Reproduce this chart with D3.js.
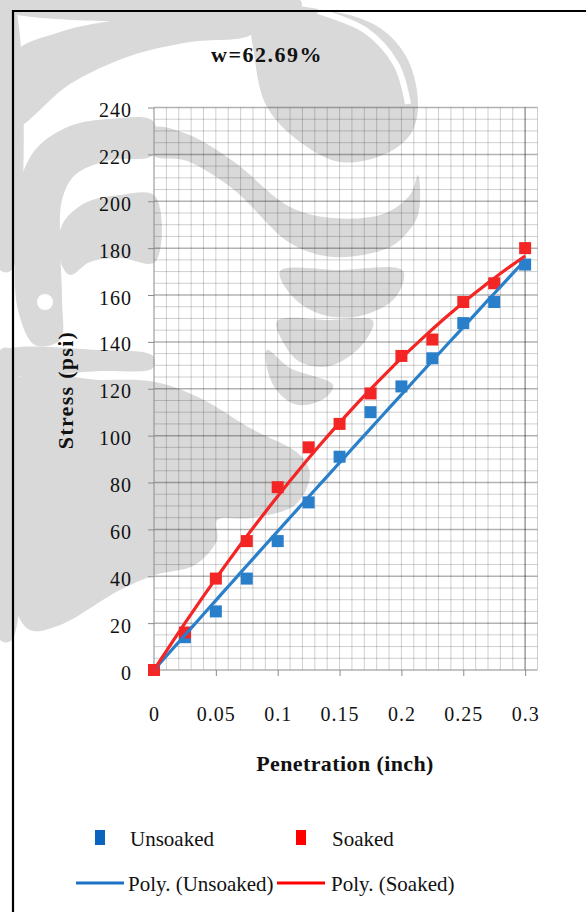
<!DOCTYPE html>
<html>
<head>
<meta charset="utf-8">
<script src="https://cdn.jsdelivr.net/npm/d3@7"></script>
<style>
  html, body { margin: 0; padding: 0; background: #fff; }
  svg { display: block; }
  text { font-family: "Liberation Serif", "Times New Roman", serif; fill: #111; }
</style>
</head>
<body>
<svg id="chart" width="586" height="912"></svg>
<script>
// Penetration readings (inch) and measured stress (psi)
const penetration = [0, 0.025, 0.05, 0.075, 0.1, 0.125, 0.15, 0.175, 0.2, 0.225, 0.25, 0.275, 0.3];
const unsoaked    = [0, 14, 25, 39, 55, 71.5, 91, 110, 121, 133, 148, 157, 173];
const soaked      = [0, 16, 39, 55, 78, 95, 105, 118, 134, 141, 157, 165, 180];

const xTicks = [0, 0.05, 0.1, 0.15, 0.2, 0.25, 0.3];
const yTicks = [0, 20, 40, 60, 80, 100, 120, 140, 160, 180, 200, 220, 240];

const titleText = "w=62.69%";
const xTitle = "Penetration (inch)";
const yTitle = "Stress (psi)";
const seriesNames = ["Unsoaked", "Soaked"];

const blue = "#2a7fca", red = "#f42525";
const legendBlue = "#0a63bd", legendRed = "#ff0000";

const svg = d3.select("#chart");

// faint page watermark behind the chart
const watermark = [
  [[0,0],[300,0],[300,10],[0,10]],
  [[0,0],[12,0],[12,270],[0,270]],
  [[0,350],[12,350],[12,640],[0,640]],
  [[13,55],[60,32],[130,18],[200,11],[260,11],[252,34],[190,42],[130,56],[70,84],[13,128]],
  [[255,11],[330,11],[380,28],[408,60],[418,107],[410,135],[383,155],[340,162],[300,142],[267,107],[255,60]],
  [[153,128],[187,134],[233,161],[290,207],[333,218],[383,214],[410,195],[418,175],[418,215],[400,240],
   [383,250],[333,257],[290,243],[233,189],[187,161],[153,155]],
  [[153,121],[153,155],[110,160],[75,175],[62,200],[60,240],[62,300],[60,340],[35,345],[18,310],
   [15,250],[18,190],[35,150],[70,126],[110,119]],
  [[155,196],[155,262],[120,258],[90,262],[70,275],[60,260],[62,225],[85,203],[120,195]],
  [[280,271],[340,270],[403,271],[395,298],[360,316],[320,314],[292,296]],
  [[277,321],[330,320],[373,321],[362,345],[330,366],[300,362],[283,342]],
  [[267,350],[290,368],[333,385],[325,398],[298,405],[278,392],[268,372]],
  [[0,352],[100,350],[153,356],[153,368],[100,371],[0,372]],
  [[13,382],[100,380],[155,382],[200,398],[250,428],[300,455],[310,475],[295,505],[250,518],[217,520],
   [217,540],[195,565],[155,575],[120,590],[60,625],[30,630],[13,600]]
];
const wm = svg.append("g");
wm.selectAll("path").data(watermark).join("path")
  .attr("d", d3.line().curve(d3.curveCatmullRomClosed.alpha(0.5)))
  .attr("fill", "#d9d9d9");
wm.append("path")
  .attr("d", d3.line().curve(d3.curveCatmullRom.alpha(0.5))([[318,11],[365,30],[396,64],[408,104]]))
  .attr("fill", "none").attr("stroke", "#fff").attr("stroke-width", 6);
wm.append("circle").attr("cx", 45).attr("cy", 302).attr("r", 8).attr("fill", "#fff");

// outer frame
svg.append("path").attr("d", "M13,912V11H586").attr("fill", "none")
  .attr("stroke", "#000").attr("stroke-width", 2.2);

// plot geometry
const plot = { left: 154, right: 537.5, top: 107.5, bottom: 670 };
const x = d3.scaleLinear().domain([0, 0.31]).range([plot.left, plot.right]);
const y = d3.scaleLinear().domain([0, 240]).range([plot.bottom, plot.top]);

// grid
const grid = svg.append("g");
const vMinor = d3.range(1, 32).map(i => i / 100);
const hMinor = d3.range(5, 241, 5);
grid.selectAll(".vx").data(vMinor).join("line")
  .attr("x1", d => x(d)).attr("x2", d => x(d))
  .attr("y1", plot.top).attr("y2", plot.bottom)
  .attr("stroke", "#000").attr("stroke-opacity", 0.19).attr("stroke-width", 1);
grid.selectAll(".hy").data(hMinor).join("line")
  .attr("y1", d => y(d)).attr("y2", d => y(d))
  .attr("x1", plot.left).attr("x2", plot.right)
  .attr("stroke", "#000").attr("stroke-opacity", d => d % 20 === 0 ? 0.3 : 0.19)
  .attr("stroke-width", d => d % 20 === 0 ? 1.5 : 1);
grid.append("line")
  .attr("x1", x(0.3)).attr("x2", x(0.3)).attr("y1", plot.top).attr("y2", plot.bottom)
  .attr("stroke", "#000").attr("stroke-opacity", 0.28).attr("stroke-width", 1.6);

// axes
const xAxis = d3.axisBottom(x).tickValues(xTicks).tickSize(6).tickFormat(d3.format("~g"));
const yAxis = d3.axisLeft(y).tickValues(yTicks).tickSize(6).tickFormat(d3.format("d"));

const gx = svg.append("g").attr("transform", `translate(0,${plot.bottom})`).call(xAxis);
gx.select(".domain").attr("stroke", "#8a8a8a").attr("d", `M${plot.left},0H${plot.right}`);
gx.selectAll(".tick line").attr("stroke", "#8a8a8a");
gx.selectAll(".tick text").attr("y", 51).attr("dy", 0)
  .style("font-family", "Liberation Serif").style("font-size", "20px")
  .style("letter-spacing", "1px").attr("fill", "#111");

const gy = svg.append("g").attr("transform", `translate(${plot.left},0)`).call(yAxis);
gy.select(".domain").attr("stroke", "#8a8a8a").attr("d", `M0,${plot.top}V${plot.bottom}`);
gy.selectAll(".tick line").attr("stroke", "#8a8a8a");
gy.selectAll(".tick text").attr("x", -22).attr("dy", 9)
  .style("font-family", "Liberation Serif").style("font-size", "20px")
  .style("letter-spacing", "1px").attr("fill", "#111");

// titles
svg.append("text").attr("x", 267).attr("y", 62).attr("text-anchor", "middle")
  .style("font-weight", "bold").style("font-size", "22px").style("letter-spacing", "1.5px")
  .text(titleText);
svg.append("text").attr("x", 345).attr("y", 771).attr("text-anchor", "middle")
  .style("font-weight", "bold").style("font-size", "22px").style("letter-spacing", "0.4px")
  .text(xTitle);
svg.append("text").attr("transform", "translate(73,390) rotate(-90)").attr("text-anchor", "middle")
  .style("font-weight", "bold").style("font-size", "22px").style("letter-spacing", "1.3px")
  .text(yTitle);

// second-order least-squares fit through the origin: y = b*x + c*x^2
function polyfit2(xs, ys) {
  let s2 = 0, s3 = 0, s4 = 0, t1 = 0, t2 = 0;
  xs.forEach((xv, i) => {
    s2 += xv * xv; s3 += xv ** 3; s4 += xv ** 4;
    t1 += xv * ys[i]; t2 += xv * xv * ys[i];
  });
  const D = s2 * s4 - s3 * s3;
  const b = (t1 * s4 - s3 * t2) / D;
  const c = (s2 * t2 - s3 * t1) / D;
  return xv => b * xv + c * xv * xv;
}

const series = [
  { name: seriesNames[0], values: unsoaked, color: blue },
  { name: seriesNames[1], values: soaked, color: red }
];

const ms = 12;
series.forEach(sr => {
  svg.append("g").selectAll("rect").data(penetration).join("rect")
    .attr("x", (d) => x(d) - ms / 2)
    .attr("y", (d, i) => y(sr.values[i]) - ms / 2)
    .attr("width", ms).attr("height", ms)
    .attr("fill", sr.color);
});

const line = d3.line().x(d => x(d[0])).y(d => y(d[1]));
series.forEach(sr => {
  const f = polyfit2(penetration, sr.values);
  const pts = d3.range(0, 61).map(i => { const xv = 0.3 * i / 60; return [xv, f(xv)]; });
  svg.append("path").attr("d", line(pts)).attr("fill", "none")
    .attr("stroke", sr.color).attr("stroke-width", 3.2);
});

// legend
const lg = svg.append("g");
lg.append("rect").attr("x", 95).attr("y", 830).attr("width", 10).attr("height", 15).attr("fill", legendBlue);
lg.append("text").attr("x", 130).attr("y", 846).style("font-size", "21px").text(seriesNames[0]);
lg.append("rect").attr("x", 296).attr("y", 830).attr("width", 10).attr("height", 15).attr("fill", legendRed);
lg.append("text").attr("x", 332).attr("y", 846).style("font-size", "21px").text(seriesNames[1]);
lg.append("line").attr("x1", 76).attr("x2", 124).attr("y1", 883).attr("y2", 883)
  .attr("stroke", "#1a72c4").attr("stroke-width", 3);
lg.append("text").attr("x", 128).attr("y", 891).style("font-size", "21px").text(`Poly. (${seriesNames[0]})`);
lg.append("line").attr("x1", 277).attr("x2", 325).attr("y1", 883).attr("y2", 883)
  .attr("stroke", legendRed).attr("stroke-width", 3);
lg.append("text").attr("x", 331).attr("y", 891).style("font-size", "21px").text(`Poly. (${seriesNames[1]})`);
</script>
</body>
</html>
